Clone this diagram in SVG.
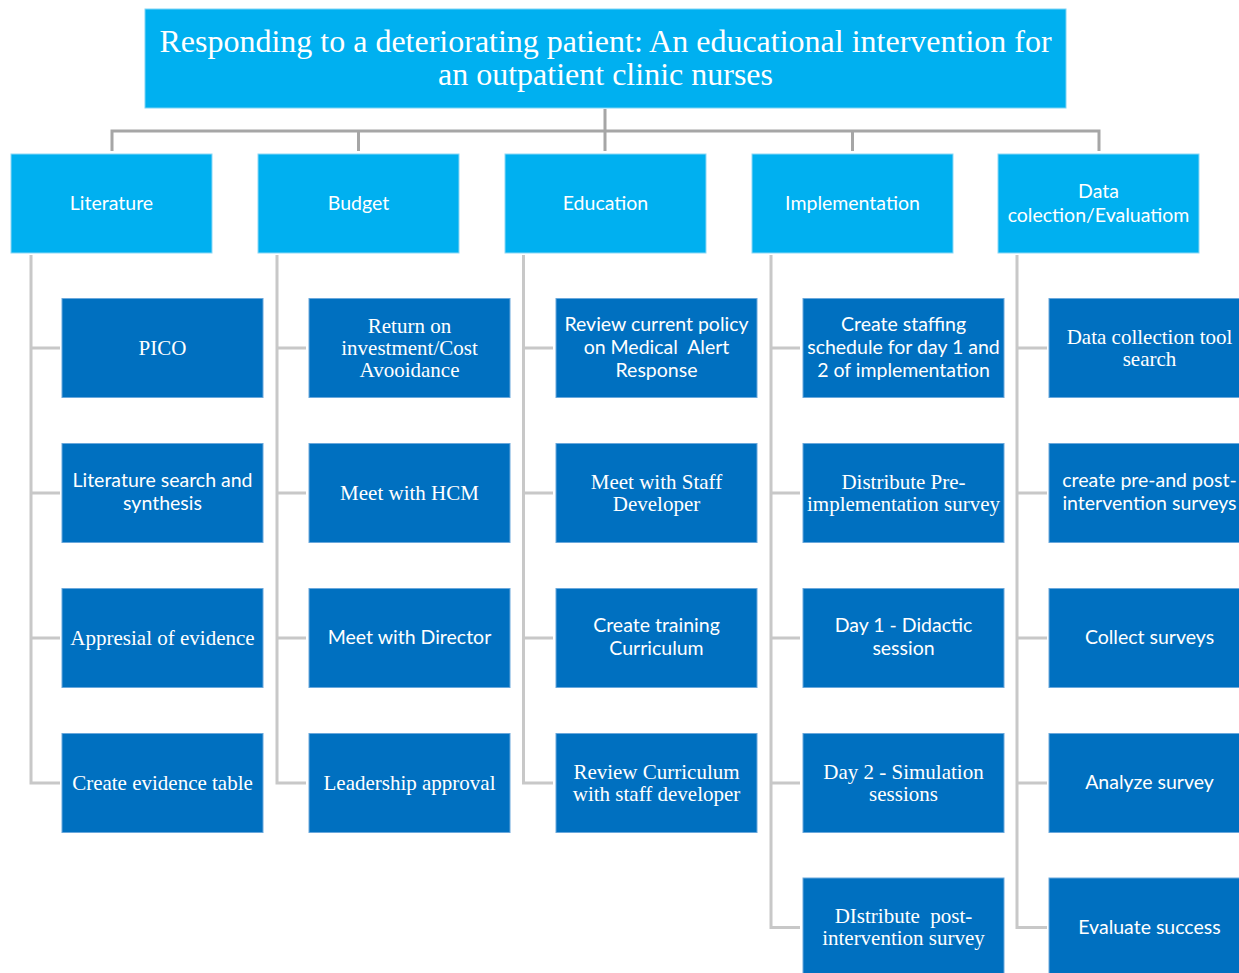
<svg xmlns="http://www.w3.org/2000/svg" width="1239" height="973" viewBox="0 0 1239 973">
<style>
.title{fill:#00B0F0;stroke:#7fd4f5;stroke-width:1}
.cat{fill:#00B0F0;stroke:#8cd8f6;stroke-width:1}
.child{fill:#0070C0;stroke:#6aa8dc;stroke-width:1}
.ts{font-family:"Liberation Serif","Times New Roman",serif;font-size:32px;fill:#fff;text-anchor:middle}
.sans{font-family:Lato,"Open Sans",sans-serif;font-size:19.5px;fill:#fff;text-anchor:middle}
.serif{font-family:"Liberation Serif","Times New Roman",serif;font-size:21px;fill:#fff;text-anchor:middle}
.up{stroke:#A6A6A6;stroke-width:3;fill:none}
.low{stroke:#C8C8C8;stroke-width:3;fill:none}
</style>
<rect width="1239" height="973" fill="#fff"/>
<g id="connectors">
<path class="up" d="M605 109V131M112 151V131H1099V151M358.5 131V151M605 131V151M852.5 131V151"/>
<path class="low" d="M31 255V783H60M31 348H60M31 493H60M31 638H60"/>
<path class="low" d="M277 255V783H306M277 348H306M277 493H306M277 638H306"/>
<path class="low" d="M523.5 255V783H553M523.5 348H553M523.5 493H553M523.5 638H553"/>
<path class="low" d="M771 255V927.5H800M771 348H800M771 493H800M771 638H800M771 783H800"/>
<path class="low" d="M1017 255V927.5H1047M1017 348H1047M1017 493H1047M1017 638H1047M1017 783H1047"/>
</g>
<g id="title">
<rect class="title" x="145" y="9" width="921" height="99"/>
<text class="ts" x="605.5" y="52">Responding to a deteriorating patient: An educational intervention for</text>
<text class="ts" x="605.5" y="85">an outpatient clinic nurses</text>
</g>
<g id="cat-literature"><rect class="cat" x="11" y="154" width="201" height="99"/><text class="sans" x="111.5" y="210">Literature</text></g>
<g id="cat-budget"><rect class="cat" x="258" y="154" width="201" height="99"/><text class="sans" x="358.5" y="210">Budget</text></g>
<g id="cat-education"><rect class="cat" x="505" y="154" width="201" height="99"/><text class="sans" x="605.5" y="210">Education</text></g>
<g id="cat-implementation"><rect class="cat" x="752" y="154" width="201" height="99"/><text class="sans" x="852.5" y="210">Implementation</text></g>
<g id="cat-data"><rect class="cat" x="998" y="154" width="201" height="99"/><text class="sans" x="1098.5" y="198">Data</text><text class="sans" x="1098.5" y="222">colection/Evaluatiom</text></g>

<g id="lit-1"><rect class="child" x="62" y="298.5" width="201" height="99"/><text class="serif" x="162.5" y="355">PICO</text></g>
<g id="lit-2"><rect class="child" x="62" y="443.5" width="201" height="99"/><text class="sans" x="162.5" y="487">Literature search and</text><text class="sans" x="162.5" y="510">synthesis</text></g>
<g id="lit-3"><rect class="child" x="62" y="588.5" width="201" height="99"/><text class="serif" x="162.5" y="645">Appresial of evidence</text></g>
<g id="lit-4"><rect class="child" x="62" y="733.5" width="201" height="99"/><text class="serif" x="162.5" y="790">Create evidence table</text></g>

<g id="bud-1"><rect class="child" x="309" y="298.5" width="201" height="99"/><text class="serif" x="409.5" y="333">Return on</text><text class="serif" x="409.5" y="355">investment/Cost</text><text class="serif" x="409.5" y="377">Avooidance</text></g>
<g id="bud-2"><rect class="child" x="309" y="443.5" width="201" height="99"/><text class="serif" x="409.5" y="500">Meet with HCM</text></g>
<g id="bud-3"><rect class="child" x="309" y="588.5" width="201" height="99"/><text class="sans" x="409.5" y="644">Meet with Director</text></g>
<g id="bud-4"><rect class="child" x="309" y="733.5" width="201" height="99"/><text class="serif" x="409.5" y="790">Leadership approval</text></g>

<g id="edu-1"><rect class="child" x="556" y="298.5" width="201" height="99"/><text class="sans" x="656.5" y="331">Review current policy</text><text class="sans" x="656.5" y="354" xml:space="preserve">on Medical  Alert</text><text class="sans" x="656.5" y="377">Response</text></g>
<g id="edu-2"><rect class="child" x="556" y="443.5" width="201" height="99"/><text class="serif" x="656.5" y="489">Meet with Staff</text><text class="serif" x="656.5" y="511">Developer</text></g>
<g id="edu-3"><rect class="child" x="556" y="588.5" width="201" height="99"/><text class="sans" x="656.5" y="632">Create training</text><text class="sans" x="656.5" y="655">Curriculum</text></g>
<g id="edu-4"><rect class="child" x="556" y="733.5" width="201" height="99"/><text class="serif" x="656.5" y="779">Review Curriculum</text><text class="serif" x="656.5" y="801">with staff developer</text></g>

<g id="imp-1"><rect class="child" x="803" y="298.5" width="201" height="99"/><text class="sans" x="903.5" y="331">Create staffing</text><text class="sans" x="903.5" y="354">schedule for day 1 and</text><text class="sans" x="903.5" y="377">2 of implementation</text></g>
<g id="imp-2"><rect class="child" x="803" y="443.5" width="201" height="99"/><text class="serif" x="903.5" y="489">Distribute Pre-</text><text class="serif" x="903.5" y="511">implementation survey</text></g>
<g id="imp-3"><rect class="child" x="803" y="588.5" width="201" height="99"/><text class="sans" x="903.5" y="632">Day 1 - Didactic</text><text class="sans" x="903.5" y="655">session</text></g>
<g id="imp-4"><rect class="child" x="803" y="733.5" width="201" height="99"/><text class="serif" x="903.5" y="779">Day 2 - Simulation</text><text class="serif" x="903.5" y="801">sessions</text></g>
<g id="imp-5"><rect class="child" x="803" y="878" width="201" height="99"/><text class="serif" x="903.5" y="923" xml:space="preserve">DIstribute  post-</text><text class="serif" x="903.5" y="945">intervention survey</text></g>

<g id="dat-1"><rect class="child" x="1049" y="298.5" width="201" height="99"/><text class="serif" x="1149.5" y="344">Data collection tool</text><text class="serif" x="1149.5" y="366">search</text></g>
<g id="dat-2"><rect class="child" x="1049" y="443.5" width="201" height="99"/><text class="sans" x="1149.5" y="487">create pre-and post-</text><text class="sans" x="1149.5" y="510">intervention surveys</text></g>
<g id="dat-3"><rect class="child" x="1049" y="588.5" width="201" height="99"/><text class="sans" x="1149.5" y="644">Collect surveys</text></g>
<g id="dat-4"><rect class="child" x="1049" y="733.5" width="201" height="99"/><text class="sans" x="1149.5" y="789">Analyze survey</text></g>
<g id="dat-5"><rect class="child" x="1049" y="878" width="201" height="99"/><text class="sans" x="1149.5" y="934">Evaluate success</text></g>
</svg>
